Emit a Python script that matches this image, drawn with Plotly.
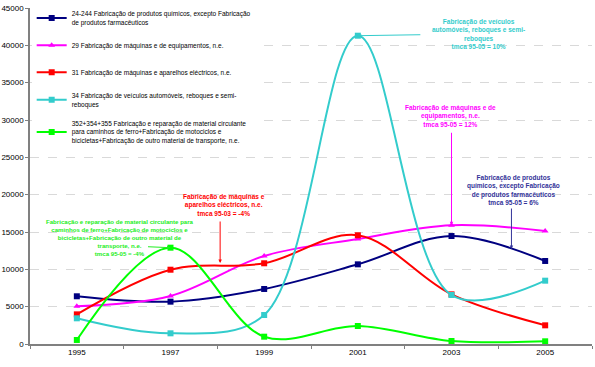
import plotly.graph_objects as go

years = ["1995", "1997", "1999", "2001", "2003", "2005"]

names = [
    "24-244 Fabricação de produtos químicos, excepto Fabricação<br>de produtos farmacêuticos",
    "29 Fabricação de máquinas e de equipamentos, n.e.",
    "31 Fabricação de máquinas e aparelhos eléctricos, n.e.",
    "34 Fabricação de veículos automóveis, reboques e semi-<br>reboques",
    "352+354+355 Fabricação e reparação de material circulante<br>para caminhos de ferro+Fabricação de motociclos e<br>bicicletas+Fabricação de outro material de transporte, n.e.",
]

quimicos = [6390, 5670, 7370, 10670, 14460, 11120]
maquinas_equip = [5050, 6430, 11790, 14060, 15900, 15130]
maquinas_elect = [3970, 9950, 10810, 14560, 6650, 2500]
veiculos = [3440, 1430, 3880, 41290, 6560, 8480]
material_transp = [540, 12900, 980, 2410, 400, 360]

series = [quimicos, maquinas_equip, maquinas_elect, veiculos, material_transp]
colors = ["#000080", "#FF00FF", "#FF0000", "#33CCCC", "#00FF00"]
symbols = ["square", "triangle-up", "square", "square", "square"]

fig = go.Figure()
for i, (nm, vals, col, sym) in enumerate(zip(names, series, colors, symbols)):
    fig.add_trace(go.Scatter(
        x=years, y=vals, name=nm, mode="lines+markers",
        line=dict(color=col, width=2, shape="spline", smoothing=1),
        marker=dict(symbol=sym, size=6, color=col),
        legendgroup=f"g{i}",
    ))

FONT = "Liberation Sans, Arial, sans-serif"

# annotation texts (no arrows)
notes = [
    dict(x=4.29, y=41580, text="Fabricação de veículos<br>automóveis, reboques e semi-<br>reboques<br>tmca 95-05 = 10%",
         color="#33CCCC", size=6.5),
    dict(x=3.99, y=30540, text="Fabricação de máquinas e de<br>equipamentos, n.e.<br>tmca 95-05 = 12%",
         color="#FF00FF", size=6.5),
    dict(x=4.66, y=20690, text="Fabricação de produtos<br>químicos, excepto Fabricação<br>de produtos farmacêuticos<br>tmca 95-05 = 6%",
         color="#333399", size=6.5),
    dict(x=1.57, y=18620, text="Fabricação de máquinas e<br>aparelhos eléctricos, n.e.<br>tmca 95-03 = -4%",
         color="#FF0000", size=6.5),
    dict(x=0.46, y=14260, text="Fabricação e reparação de material circulante para<br>caminhos de ferro+Fabricação de motociclos e<br>bicicletas+Fabricação de outro material de<br>transporte, n.e.<br>tmca 95-05 = -4%",
         color="#22EE22", size=6.1),
]
for n in notes:
    fig.add_annotation(x=n["x"], y=n["y"], xref="x", yref="y", text=n["text"], showarrow=False,
                       font=dict(family=FONT, size=n["size"], color=n["color"], weight="bold"),
                       align="center", xanchor="center", yanchor="middle")

# arrows (empty text)
arrows = [
    dict(x=3.0, y=41290, ax=64, ay=-1, color="#33CCCC"),
    dict(x=4.0, y=15900, ax=0, ay=-94, color="#FF00FF"),
    dict(x=4.64, y=12720, ax=0, ay=-42, color="#333399"),
    dict(x=1.53, y=10850, ax=0, ay=-43, color="#FF0000"),
    dict(x=1.0, y=12900, ax=-24, ay=-1, color="#22EE22"),
]
for a in arrows:
    fig.add_annotation(x=a["x"], y=a["y"], xref="x", yref="y", text="", showarrow=True,
                       ax=a["ax"], ay=a["ay"], arrowcolor=a["color"], arrowwidth=1,
                       arrowhead=2, arrowsize=0.7)

fig.update_layout(
    width=595, height=367,
    margin=dict(l=30, r=3, t=8, b=23),
    paper_bgcolor="white", plot_bgcolor="white",
    font=dict(family=FONT, size=8, color="#000000"),
    showlegend=True,
    legend=dict(x=0.003, y=1.015, xanchor="left", yanchor="top",
                bgcolor="white", borderwidth=0,
                font=dict(family=FONT, size=6.5, color="#000000"),
                tracegroupgap=8, itemwidth=30),
    xaxis=dict(type="category", showline=True, linecolor="#808080", linewidth=1.5,
               ticks="outside", tickson="boundaries", ticklen=3, tickcolor="#808080",
               showgrid=False, tickfont=dict(size=8), range=[-0.5, 5.5], automargin=False),
    yaxis=dict(range=[0, 45000], dtick=5000, tickformat="d", showline=True,
               linecolor="#808080", linewidth=1.5,
               ticks="outside", ticklen=3, tickcolor="#808080",
               showgrid=True, gridcolor="#D9D9D9", griddash="dash", gridwidth=1,
               tickfont=dict(size=8), zeroline=False, automargin=False),
)

fig.write_html("out.html")
